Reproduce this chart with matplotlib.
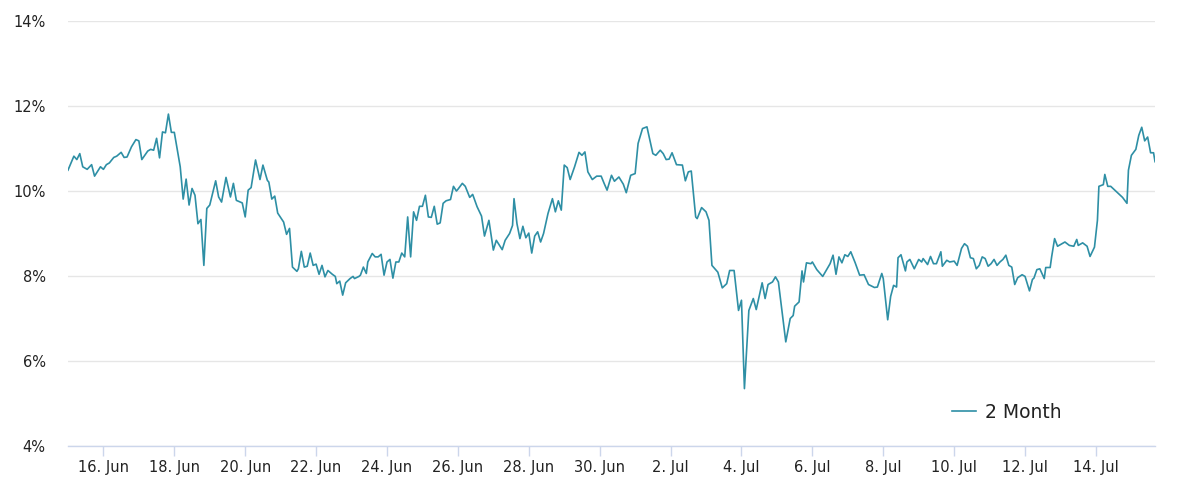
import matplotlib
matplotlib.use('Agg')
import matplotlib.pyplot as plt
import matplotlib.ticker as ticker
import matplotlib.dates as mdates
import pandas as pd

start = pd.Timestamp('2023-06-15 00:00')

# hours after start
hours = [
    0, 4, 6, 8, 10, 13, 16, 18, 22, 24, 26, 28, 31, 33, 36, 38, 40, 43, 46, 48,
    50, 54, 56, 58, 60, 62, 64, 66, 68, 70, 72, 76, 78, 80, 82, 84, 86, 88, 90, 92,
    94, 96, 100, 102, 104, 107, 110, 112, 114, 118, 120, 122, 124, 127, 130, 132, 135, 136, 138, 140,
    142, 146, 148, 150, 152, 155, 156, 158, 160, 162, 164, 166, 168, 170, 172, 174, 176, 179, 181, 182,
    184, 186, 188, 191, 193, 194, 197, 198, 200, 202, 203, 206, 208, 210, 212, 214, 216, 218, 220, 222,
    224, 226, 228, 230, 232, 234, 236, 238, 240, 242, 244, 246, 248, 250, 252, 254, 256, 259, 261, 263,
    264, 267, 269, 272, 274, 277, 280, 282, 285, 288, 290, 294, 296, 299, 301, 302, 304, 306, 308, 310,
    312, 314, 316, 318, 320, 322, 325, 328, 330, 332, 334, 336, 338, 340, 343, 346, 348, 350, 352, 355,
    358, 361, 363, 365, 368, 370, 373, 376, 378, 381, 384, 386, 389, 392, 394, 396, 398, 401, 403, 405,
    407, 409, 412, 416, 418, 420, 422, 425, 426, 429, 432, 434, 436, 440, 443, 446, 448, 451, 454, 456,
    458, 461, 464, 466, 470, 472, 474, 477, 479, 481, 486, 489, 491, 492, 495, 497, 498, 500, 503, 504,
    507, 511, 514, 516, 518, 520, 522, 524, 526, 528, 530, 533, 536, 539, 542, 546, 548, 551, 552, 555,
    557, 559, 561, 562, 564, 567, 568, 570, 573, 576, 578, 579, 582, 584, 586, 588, 591, 592, 595, 597,
    600, 602, 605, 607, 609, 611, 613, 615, 617, 619, 621, 623, 625, 627, 629, 631, 633, 635, 637, 639,
    641, 643, 646, 648, 651, 653, 654, 656, 658, 661, 662, 665, 666, 668, 670, 673, 675, 678, 681, 683,
    684, 687, 690, 692, 695, 697, 698, 701, 702, 704, 706, 710, 714, 717, 718, 720, 723, 725, 727, 729,
    731, 733, 735, 736,
]

values = [
    10.49, 10.82, 10.74, 10.88, 10.57, 10.51, 10.62, 10.35, 10.57, 10.51, 10.62, 10.66, 10.79, 10.82, 10.91, 10.79, 10.80, 11.04, 11.21, 11.18,
    10.74, 10.94, 10.98, 10.96, 11.24, 10.78, 11.39, 11.37, 11.81, 11.38, 11.38, 10.57, 9.81, 10.28, 9.67, 10.06, 9.90, 9.23, 9.33, 8.25,
    9.59, 9.67, 10.24, 9.86, 9.74, 10.32, 9.86, 10.18, 9.78, 9.72, 9.39, 10.02, 10.08, 10.73, 10.27, 10.61, 10.25, 10.21, 9.81, 9.88,
    9.48, 9.27, 8.98, 9.12, 8.21, 8.11, 8.17, 8.58, 8.21, 8.23, 8.54, 8.25, 8.28, 8.04, 8.25, 7.98, 8.13, 8.04, 7.99, 7.82,
    7.88, 7.55, 7.84, 7.94, 7.99, 7.94, 7.99, 8.02, 8.21, 8.06, 8.33, 8.53, 8.45, 8.45, 8.51, 8.02, 8.33, 8.39, 7.95, 8.33,
    8.33, 8.54, 8.45, 9.39, 8.45, 9.51, 9.31, 9.64, 9.64, 9.90, 9.39, 9.38, 9.64, 9.22, 9.25, 9.71, 9.77, 9.80, 10.11, 10.00,
    10.04, 10.18, 10.11, 9.85, 9.92, 9.63, 9.41, 8.94, 9.31, 8.61, 8.84, 8.62, 8.84, 9.00, 9.19, 9.82, 9.23, 8.88, 9.17, 8.90,
    9.01, 8.54, 8.94, 9.04, 8.80, 9.00, 9.47, 9.82, 9.51, 9.77, 9.55, 10.61, 10.55, 10.27, 10.57, 10.91, 10.84, 10.92, 10.45, 10.27,
    10.35, 10.35, 10.18, 10.02, 10.37, 10.23, 10.33, 10.16, 9.96, 10.37, 10.41, 11.12, 11.47, 11.51, 11.20, 10.88, 10.84, 10.96, 10.88, 10.74,
    10.75, 10.90, 10.62, 10.61, 10.24, 10.45, 10.47, 9.39, 9.35, 9.61, 9.51, 9.31, 8.25, 8.09, 7.72, 7.82, 8.13, 8.13, 7.19, 7.43,
    5.35, 7.19, 7.47, 7.21, 7.84, 7.47, 7.80, 7.86, 7.98, 7.86, 6.45, 7.00, 7.07, 7.29, 7.39, 8.12, 7.86, 8.31, 8.29, 8.33,
    8.15, 7.99, 8.17, 8.29, 8.49, 8.04, 8.45, 8.31, 8.50, 8.46, 8.57, 8.31, 8.02, 8.03, 7.80, 7.73, 7.74, 8.06, 7.94, 6.97,
    7.52, 7.78, 7.74, 8.43, 8.50, 8.12, 8.33, 8.39, 8.17, 8.39, 8.33, 8.41, 8.27, 8.46, 8.29, 8.29, 8.57, 8.23, 8.37, 8.33,
    8.35, 8.25, 8.65, 8.76, 8.70, 8.43, 8.41, 8.17, 8.25, 8.45, 8.41, 8.23, 8.29, 8.39, 8.25, 8.33, 8.39, 8.49, 8.25, 8.21,
    7.80, 7.96, 8.03, 7.99, 7.65, 7.92, 7.95, 8.15, 8.17, 7.94, 8.20, 8.20, 8.45, 8.88, 8.70, 8.76, 8.80, 8.72, 8.70, 8.86,
    8.72, 8.78, 8.70, 8.46, 8.68, 9.31, 10.11, 10.15, 10.39, 10.11, 10.11, 9.98, 9.85, 9.71, 10.49, 10.84, 10.98, 11.31, 11.50, 11.18,
    11.27, 10.90, 10.90, 10.69,
]

y_ticks = [4, 6, 8, 10, 12, 14]
x_ticks = pd.date_range('2023-06-16', '2023-07-14', freq='2D')
series_name = '2 Month'

times = start + pd.to_timedelta(hours, unit='h')

line_color = '#2e8fa5'
text_color = '#222222'

fig = plt.figure(figsize=(11.78, 4.90), dpi=100)
ax = fig.add_axes([0.0577, 0.0898, 0.9228, 0.8673])

ax.plot(times, values, color=line_color, linewidth=1.2, label=series_name,
        solid_joinstyle='round', zorder=3)

ax.set_ylim(4, 14)
ax.set_yticks(y_ticks)
ax.yaxis.set_major_formatter(ticker.FuncFormatter(lambda v, p: f'{int(v)}%'))
ax.grid(axis='y', color='#e6e6e6', linewidth=1)
ax.set_axisbelow(True)

ax.set_xlim(times[0], times[-1])
ax.set_xticks(x_ticks)
ax.xaxis.set_major_formatter(ticker.FuncFormatter(
    lambda v, p: f"{mdates.num2date(v).day}. {mdates.num2date(v).strftime('%b')}"))

for side in ['top', 'right', 'left']:
    ax.spines[side].set_visible(False)
ax.spines['bottom'].set_color('#ccd6eb')
ax.spines['bottom'].set_linewidth(1)

ax.tick_params(axis='y', length=0, pad=16, labelsize=10.5, labelcolor=text_color)
ax.tick_params(axis='x', length=7, width=1, color='#ccd6eb', pad=3,
               labelsize=10.5, labelcolor=text_color)

leg = ax.legend(loc='center left', bbox_to_anchor=(0.808, 0.159),
                bbox_transform=fig.transFigure, frameon=False,
                borderpad=0, borderaxespad=0, fontsize=13.5,
                handlelength=1.28, handletextpad=0.5)
for t in leg.get_texts():
    t.set_color(text_color)

plt.savefig('out.png', dpi=100)
plt.close()
